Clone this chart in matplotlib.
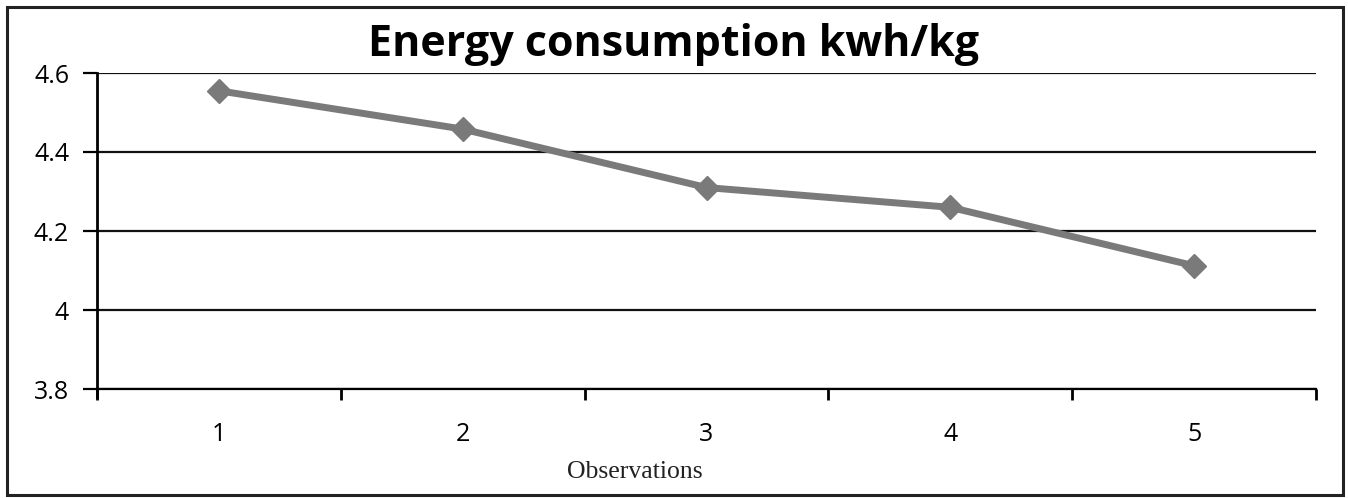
import matplotlib
matplotlib.use("Agg")
import matplotlib.pyplot as plt
from matplotlib.patches import Rectangle

observations = [1, 2, 3, 4, 5]
energy = [4.555, 4.458, 4.31, 4.26, 4.112]
y_ticks = [3.8, 4.0, 4.2, 4.4, 4.6]
y_labels = ["3.8", "4", "4.2", "4.4", "4.6"]

fig = plt.figure(figsize=(13.48, 4.98), dpi=100)
ax = fig.add_axes([97 / 1348, 1 - 389 / 498, (1316 - 97) / 1348, (389 - 73) / 498])

# frame round the whole chart
fig.patches.append(Rectangle((7 / 1348, 3 / 498), 1336 / 1348, 488 / 498,
                             transform=fig.transFigure, fill=False,
                             edgecolor="#222222", linewidth=2.2))

for y in y_ticks:
    ax.axhline(y, color="#111111", linewidth=1.6, zorder=1)

ax.plot(observations, energy, color="#7a7a7a", linewidth=5,
        marker="D", markersize=12, zorder=3)

ax.set_xlim(0.5, 5.5)
ax.set_ylim(3.8, 4.6)
ax.set_yticks(y_ticks)
ax.set_yticklabels(y_labels, fontsize=18, family="Open Sans")
ax.set_xticks(observations)
ax.set_xticklabels([str(o) for o in observations], fontsize=18, family="Open Sans")
ax.set_xticks([0.5, 1.5, 2.5, 3.5, 4.5, 5.5], minor=True)
ax.tick_params(axis="x", which="major", length=0, pad=24)
ax.tick_params(axis="x", which="minor", length=8, width=2, direction="out")
ax.tick_params(axis="y", length=10, width=1.6, pad=10)

for side in ["top", "right"]:
    ax.spines[side].set_visible(False)
ax.spines["left"].set_linewidth(2)
ax.spines["bottom"].set_linewidth(1.6)
ax.spines["left"].set_bounds(3.78, 4.6)

fig.text(635 / 1348, 1 - 472 / 498, "Observations", ha="center", va="center",
         fontsize=18.5, family="Liberation Serif", color="#222222")
fig.text(0.5, 1 - 45 / 498, "Energy consumption kwh/kg", ha="center", va="center",
         fontsize=31, fontweight="bold", family="Open Sans")

fig.savefig("out.png", dpi=100)
